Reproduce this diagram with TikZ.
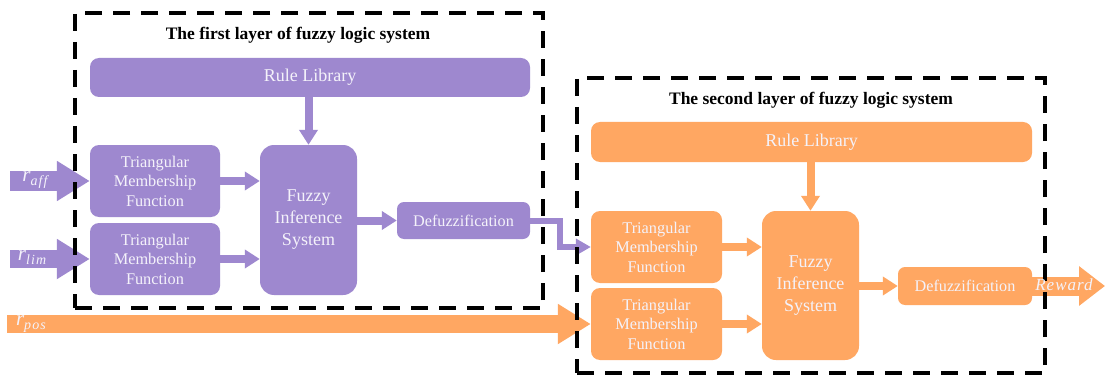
\documentclass[tikz,border=0pt]{standalone}
\usepackage{fontspec}
\setmainfont{Liberation Serif}
\usetikzlibrary{arrows.meta}
\definecolor{pur}{RGB}{158,136,207}
\definecolor{org}{RGB}{255,167,98}
\definecolor{txt}{RGB}{244,242,250}
\newcommand{\rsub}[1]{{\fontsize{21}{21}\selectfont\itshape r}\raisebox{-4pt}{\fontsize{14}{14}\selectfont\itshape\addfontfeature{LetterSpace=8}#1}}
\begin{document}
\begin{tikzpicture}[x=1pt,y=-1pt,
  blk/.style={rounded corners=9pt, inner sep=0pt, text=txt, align=center},
  tmf/.style={blk, minimum width=130pt, minimum height=72pt, font=\fontsize{16.3}{19.5}\selectfont},
  fis/.style={blk, rounded corners=14pt, minimum width=97pt, minimum height=150pt, font=\fontsize{18}{22}\selectfont},
  rule/.style={blk, minimum height=39pt, font=\fontsize{18}{22}\selectfont},
  defz/.style={blk, rounded corners=7pt, minimum width=133pt, minimum height=37pt, font=\fontsize{16.2}{19}\selectfont},
  conn/.style={line width=8pt, -{Triangle[length=15pt,width=18pt]}},
  big/.style={-{Triangle[length=33pt,width=38pt]}},
  lbl/.style={text=txt, inner sep=0pt},
  dashbox/.style={draw=black, line width=4pt, dash pattern=on 17pt off 11pt, inner sep=0pt},
  ttl/.style={inner sep=0pt, font=\fontsize{17.5}{20}\selectfont\bfseries}
]
\useasboundingbox[fill=white] (0,0) rectangle (1105,377);

% nodes: first layer
\node[rule, fill=pur, minimum width=440pt] (RL1) at (310,77.5) {Rule Library};
\node[tmf, fill=pur] (TMF1) at (155,181) {Triangular\\Membership\\Function};
\node[tmf, fill=pur] (TMF2) at (155,259) {Triangular\\Membership\\Function};
\node[fis, fill=pur] (FIS1) at (308.5,220) {Fuzzy\\Inference\\System};
\node[defz, fill=pur] (DF1) at (463.5,220.5) {Defuzzification};

% nodes: second layer
\node[rule, fill=org, minimum width=441pt, minimum height=40pt] (RL2) at (811.5,142) {Rule Library};
\node[tmf, fill=org, minimum width=131pt] (TMF3) at (656.5,247) {Triangular\\Membership\\Function};
\node[tmf, fill=org, minimum width=131pt] (TMF4) at (656.5,324) {Triangular\\Membership\\Function};
\node[fis, fill=org, minimum height=149pt] (FIS2) at (810.5,285.5) {Fuzzy\\Inference\\System};
\node[defz, fill=org, minimum width=134pt, minimum height=38pt] (DF2) at (965,286) {Defuzzification};

% input arrows
\coordinate (inA) at (10,181);
\coordinate (inL) at (10,259);
\coordinate (inP) at (7,324);
\coordinate (outR) at (1105,286);
\draw[pur, line width=20pt, big] (inA) -- (TMF1.west);
\draw[pur, line width=18pt, big] (inL) -- (TMF2.west);
\draw[org, line width=18pt, big] (inP) -- (TMF4.west);
\draw[org, line width=19pt, -{Triangle[length=26pt,width=38pt]}] ([xshift=-4pt]DF2.east) -- (outR);

% connectors first layer
\draw[pur, conn] (FIS1.north |- RL1.south) -- (FIS1.north);
\draw[pur, conn] (TMF1.east) -- (TMF1.east -| FIS1.west);
\draw[pur, conn] (TMF2.east) -- (TMF2.east -| FIS1.west);
\draw[pur, conn] (FIS1.east |- DF1.west) -- (DF1.west);
\draw[pur, line width=6pt, -{Triangle[length=15pt,width=16pt]}] ([xshift=-3pt]DF1.east) -- ++(33,0) |- (TMF3.west);

% connectors second layer
\draw[org, conn] (FIS2.north |- RL2.south) -- (FIS2.north);
\draw[org, conn] (TMF3.east) -- (TMF3.east -| FIS2.west);
\draw[org, conn] (TMF4.east) -- (TMF4.east -| FIS2.west);
\draw[org, conn] (FIS2.east |- DF2.west) -- (DF2.west);

% dashed frames
\node[dashbox, minimum width=468pt, minimum height=295pt] (L1) at (309,160.5) {};
\node[dashbox, minimum width=468pt, minimum height=295pt] (L2) at (811,225.5) {};

% titles
\node[ttl] (T1) at (298,35) {The first layer of fuzzy logic system};
\node[ttl] (T2) at (811,100) {The second layer of fuzzy logic system};

% labels
\node[lbl] (la) at (35,180) {\rsub{aff}};
\node[lbl] (ll) at (32,258) {\rsub{lim}};
\node[lbl] (lp) at (31,324) {\rsub{pos}};
\node[lbl, font=\fontsize{17}{20}\selectfont\itshape\addfontfeature{LetterSpace=6}] (lr) at (1064,285) {Reward};
\end{tikzpicture}
\end{document}
